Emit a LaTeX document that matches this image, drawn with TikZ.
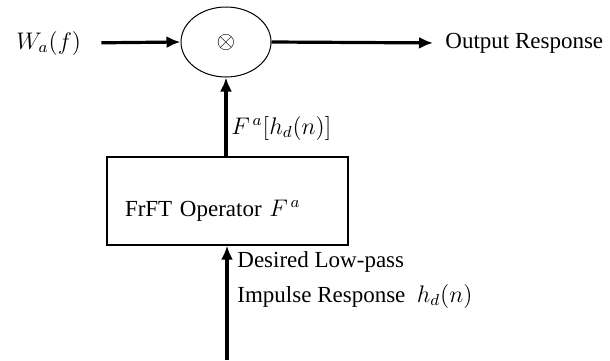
\documentclass[tikz,border=0pt]{standalone}
\usepackage{fontspec}
\setmainfont{Liberation Serif}
\usetikzlibrary{arrows.meta,positioning,shapes.geometric}

\begin{document}
\begin{tikzpicture}[
  >={Latex[length=7pt,width=6pt]},
  x=0.5pt,y=0.5pt,
  every node/.style={font=\fontsize{11.5}{14}\selectfont},
  sig/.style={->,line width=1.6pt},
  mult/.style={draw,ellipse,line width=0.5pt,
               minimum width=45pt,minimum height=35pt,inner sep=0pt},
  block/.style={draw,line width=0.6pt,minimum width=120.5pt,minimum height=44pt,
                text width=102.5pt,inner xsep=9pt,align=left,
                text height=18pt,text depth=3pt},
  lbl/.style={inner sep=0pt,anchor=west}
]
\useasboundingbox (0,0) rectangle (610,360);

%% top row: input, multiplier, output
\node[lbl] (wa)  at (16,317)  {$W_a(f)$};
\node[mult] (mul) at (226,318) {$\otimes$};
\node[lbl] (out) at (445,317) {Output Response};

%% FrFT block
\node[block] (op) at (227.5,159) {FrFT Operator $F^{\,a}$};
\node[lbl] (fa) at (231,232) {$F^{\,a}[h_d(n)]$};

%% input labels
\coordinate (src) at (227,0);
\node[lbl] (des) at (237,98) {Desired Low-pass};
\node[lbl] (imp) at (237,64) {Impulse Response \ $h_d(n)$};

%% arrows
\draw[sig,shorten <=10pt] (wa.east) -- (mul.west);
\draw[sig,shorten >=6pt] (mul.east) -- (out.west);
\draw[sig] (op.north -| mul.south) -- (mul.south);
\draw[sig] (src) -- (src |- op.south);

\end{tikzpicture}
\end{document}
